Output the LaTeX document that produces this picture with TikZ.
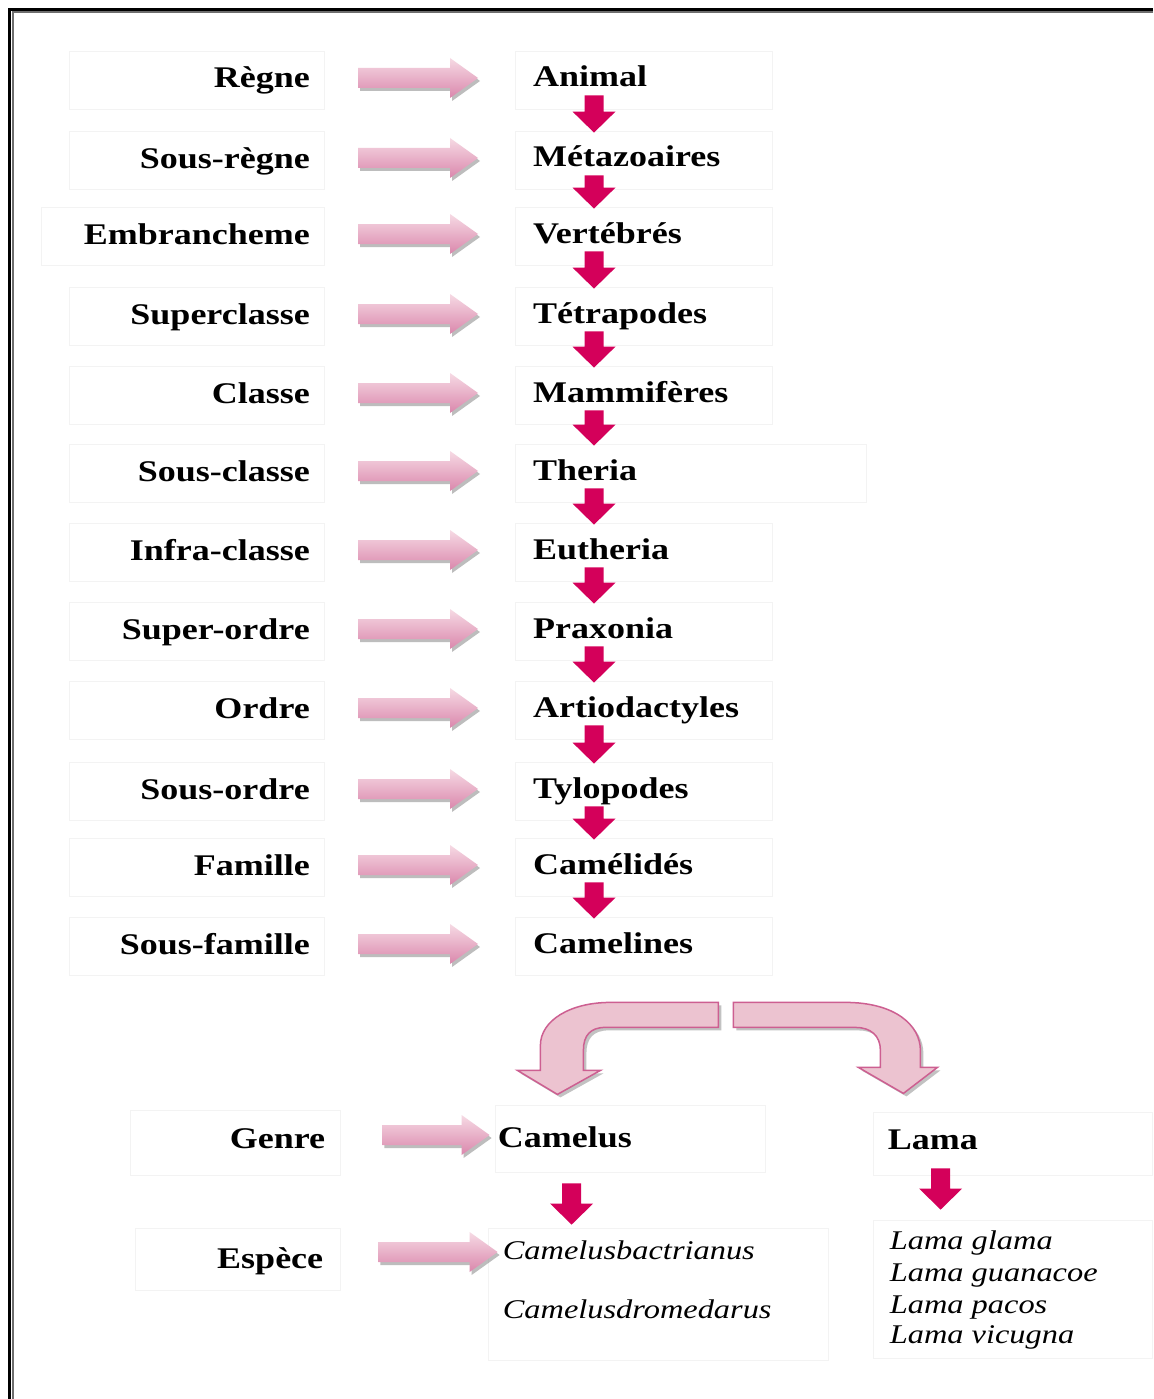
\documentclass[tikz,border=0pt]{standalone}
\usepackage{fontspec}
\newfontfamily\tnr[FakeStretch=1.2]{Liberation Serif}
\usetikzlibrary{calc}
\definecolor{crim}{RGB}{212,0,90}
\definecolor{pinkT}{RGB}{246,218,228}
\definecolor{pinkB}{RGB}{218,135,172}
\definecolor{pinkF}{RGB}{236,195,208}
\definecolor{pinkE}{RGB}{205,95,145}
\definecolor{shd}{RGB}{135,135,135}
\definecolor{faint}{RGB}{243,243,243}
\definecolor{brd}{RGB}{110,110,110}
\tikzset{
  fbox/.style={draw=faint, line width=0.8pt, inner sep=0pt},
  lab/.style={font=\tnr\bfseries\fontsize{30}{36}\selectfont, inner sep=0pt, anchor=base east},
  tax/.style={font=\tnr\bfseries\fontsize{30}{36}\selectfont, inner sep=0pt, anchor=base west},
  spc/.style={font=\tnr\itshape\fontsize{27}{32}\selectfont, inner sep=0pt, anchor=base west},
  hshadow/.style={fill=shd, opacity=0.55},
  hbody/.style={top color=pinkT, bottom color=pinkB},
  vbody/.style={fill=crim},
  cshadow/.style={fill=shd, opacity=0.5},
  cbody/.style={fill=pinkF, draw=pinkE, line width=1.5pt},
}
% horizontal block arrow: #1 = tail centre, #2 = tip (same height)
\newcommand\harr[2]{%
  \fill[hshadow] ($(#1)+(2,13)$) -- ($(#2)+(-26,13)$) -- ($(#2)+(-26,23)$) -- ($(#2)+(2,3)$)
     -- ($(#2)+(-26,-17)$) -- ($(#2)+(-26,-7)$) -- ($(#1)+(2,-7)$) -- cycle;
  \path[hbody] ($(#1)+(0,10)$) -- ($(#2)+(-28,10)$) -- ($(#2)+(-28,20)$) -- (#2)
     -- ($(#2)+(-28,-20)$) -- ($(#2)+(-28,-10)$) -- ($(#1)+(0,-10)$) -- cycle;
}
% vertical block arrow: #1 = tail centre, #2 = tip
\newcommand\varr[2]{%
  \fill[vbody] ($(#1)+(-9.5,0)$) -- ($(#2)+(-9.5,-21)$) -- ($(#2)+(-21.5,-21)$) -- (#2)
     -- ($(#2)+(21.5,-21)$) -- ($(#2)+(9.5,-21)$) -- ($(#1)+(9.5,0)$) -- cycle;
}
\begin{document}
\begin{tikzpicture}[x=1pt,y=-1pt]
\useasboundingbox (0,0) rectangle (1153,1399);
\fill[white] (0,0) rectangle (1153,1399);
% page border (top and left)
\draw[black, line width=3pt] (1153,9.5) -- (9.5,9.5) -- (9.5,1399);
\draw[brd, line width=2pt] (1153,12.5) -- (12.5,12.5) -- (12.5,1399);

% upper rows
\foreach \i/\yc/\lw/\tw/\lab/\tax in {
  1/80/255/257/Règne/Animal,
  2/160/255/257/Sous-règne/Métazoaires,
  3/236/283/257/Embrancheme/Vertébrés,
  4/316/255/257/Superclasse/Tétrapodes,
  5/395/255/257/Classe/Mammifères,
  6/473/255/351/Sous-classe/Theria,
  7/552/255/257/Infra-classe/Eutheria,
  8/631/255/257/Super-ordre/Praxonia,
  9/710/255/257/Ordre/Artiodactyles,
  10/791/255/257/Sous-ordre/Tylopodes,
  11/867/255/257/Famille/Camélidés,
  12/946/255/257/Sous-famille/Camelines}{
  \node[fbox, anchor=east, minimum width=\lw pt, minimum height=58pt] (lb\i) at (325,\yc) {};
  \node[fbox, anchor=west, minimum width=\tw pt, minimum height=58pt] (tb\i) at (515,\yc) {};
  \node[lab] (l\i) at ($(lb\i.east)+(-15,8)$) {\lab};
  \node[tax] (t\i) at ($(tb\i.west)+(18,7)$) {\tax};
  \coordinate (hs\i) at ($(lb\i.east)+(33,-2)$);
  \coordinate (he\i) at ($(tb\i.west)+(-37,-2)$);
  \harr{hs\i}{he\i}
}
\foreach \i in {1,...,11}{
  \pgfmathtruncatemacro\j{\i+1}
  \coordinate (vs\i) at ($(tb\i.south west)+(79,-14)$);
  \coordinate (ve\i) at ($(tb\j.north west)+(79,2)$);
  \varr{vs\i}{ve\i}
}

% lower part
\node[fbox, minimum width=210pt, minimum height=65pt] (gbox) at (235,1142.5) {};
\node[fbox, minimum width=270pt, minimum height=67pt] (cbox) at (630,1138.5) {};
\node[fbox, minimum width=205pt, minimum height=62pt] (ebox) at (237.5,1259) {};
\node[fbox, minimum width=340pt, minimum height=132pt] (cspbox) at (658,1294) {};
\node[fbox, minimum width=279pt, minimum height=63pt] (lbox) at (1012.5,1143.5) {};
\node[fbox, minimum width=279pt, minimum height=138pt] (lspbox) at (1012.5,1289) {};

\node[lab] (genre) at ($(gbox.east)+(-15,5.5)$) {Genre};
\node[tax] (camelus) at ($(cbox.west)+(3,8.5)$) {Camelus};
\node[tax] (lama) at ($(lbox.west)+(15,5.5)$) {Lama};
\node[lab] (espece) at ($(ebox.east)+(-17,9)$) {Espèce};
\node[spc] (cb) at ($(cspbox.west)+(15,-35)$) {Camelusbactrianus};
\node[spc] (cd) at ($(cspbox.west)+(15,24)$) {Camelusdromedarus};
\node[spc] (lg1) at ($(lspbox.west)+(17,-40)$) {Lama glama};
\node[spc] (lg2) at ($(lspbox.west)+(17,-8)$) {Lama guanacoe};
\node[spc] (lg3) at ($(lspbox.west)+(17,24)$) {Lama pacos};
\node[spc] (lg4) at ($(lspbox.west)+(17,54)$) {Lama vicugna};

\coordinate (gs) at ($(gbox.east)+(42,-7.5)$);
\coordinate (ge) at ($(cbox.west)+(-5,-3.5)$);
\harr{gs}{ge}
\coordinate (es) at ($(ebox.east)+(38,-7)$);
\coordinate (ee) at ($(cspbox.west)+(10,-42)$);
\harr{es}{ee}

\coordinate (cvs) at ($(cbox.south west)+(77,11)$);
\coordinate (cve) at ($(cspbox.north west)+(84,-3)$);
\varr{cvs}{cve}
\coordinate (lvs) at ($(lbox.south west)+(68,-7)$);
\coordinate (lve) at ($(lspbox.north west)+(68,-10)$);
\varr{lvs}{lve}

% forked curved arrows below Camelines
\coordinate (fork) at ($(tb12.south)+(82,40)$);
\begin{scope}[shift={($(fork)-(725.5,1015)$)}]
\foreach \o/\s in {3/cshadow,0/cbody}{
  \path[\s, shift={(\o,\o)}] (718,1002) -- (610,1002) .. controls (570,1002) and (540,1020) .. (540,1045)
    -- (540,1070) -- (517,1070) -- (557,1094) -- (600,1070) -- (583,1070) -- (583,1050)
    .. controls (583,1035) and (590,1027) .. (605,1027) -- (718,1027) -- cycle;
  \path[\s, shift={(\o,\o)}] (733,1002) -- (845,1002) .. controls (895,1002) and (920,1025) .. (920,1050)
    -- (920,1067) -- (937,1067) -- (903,1093) -- (858,1067) -- (880,1067) -- (880,1050)
    .. controls (880,1035) and (870,1027) .. (855,1027) -- (733,1027) -- cycle;
}
\end{scope}
\end{tikzpicture}
\end{document}
